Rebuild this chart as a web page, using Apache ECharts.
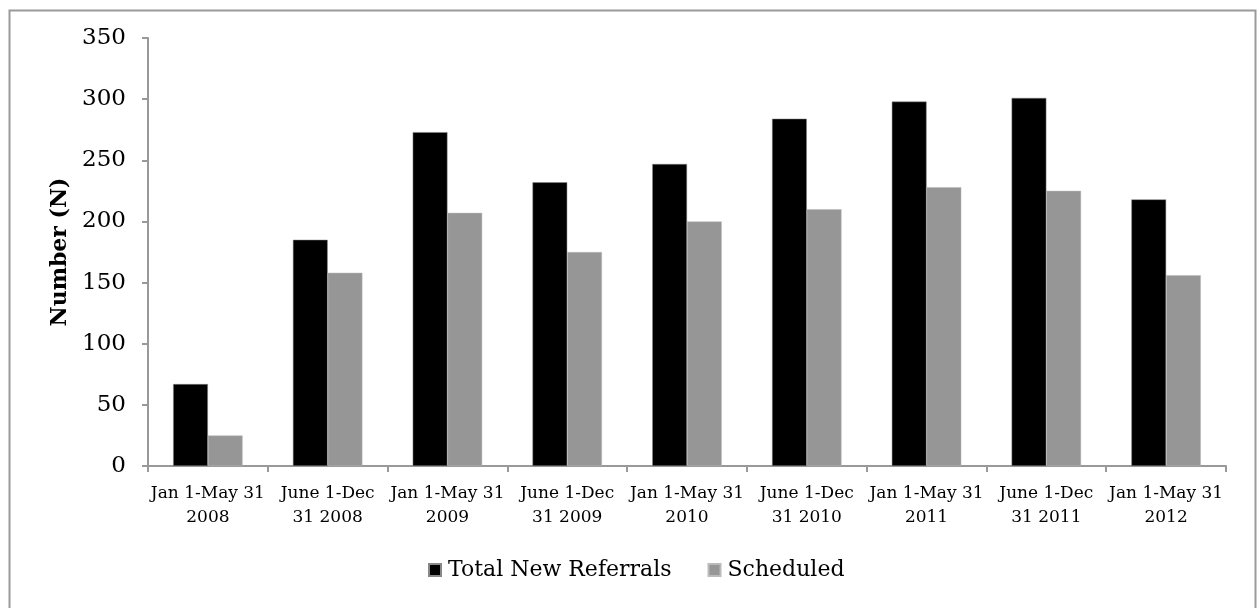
<!DOCTYPE html>
<html>
<head>
<meta charset="utf-8">
<script src="https://cdn.jsdelivr.net/npm/echarts@6/dist/echarts.min.js"></script>
<style>html,body{margin:0;padding:0;background:#fff;}#c{width:1258px;height:608px;}</style>
</head>
<body>
<div id="c"></div>
<script>
const categories = [
  "Jan 1-May 31\n2008", "June 1-Dec\n31 2008", "Jan 1-May 31\n2009", "June 1-Dec\n31 2009",
  "Jan 1-May 31\n2010", "June 1-Dec\n31 2010", "Jan 1-May 31\n2011", "June 1-Dec\n31 2011",
  "Jan 1-May 31\n2012"
];
const totalNewReferrals = [67, 185, 273, 232, 247, 284, 298, 301, 218];
const scheduled = [25, 158, 207, 175, 200, 210, 228, 225, 156];
const seriesNames = ["Total New Referrals", "Scheduled"];
const yTicks = { min: 0, max: 350, interval: 50 };

const FONT = "DejaVu Serif";
const chart = echarts.init(document.getElementById('c'), null, { renderer: 'canvas' });
chart.setOption({
  animation: false,
  backgroundColor: '#fff',
  textStyle: { fontFamily: FONT, color: '#000' },
  graphic: [{
    type: 'rect', left: 7, top: 8,
    shape: { width: 1246, height: 620 },
    style: { fill: 'none', stroke: '#9a9a9a', lineWidth: 2 },
    silent: true
  }],
  grid: { left: 148, right: 32, top: 38, bottom: 142, containLabel: false },
  legend: {
    bottom: 22, left: 423,
    itemWidth: 12, itemHeight: 12, itemGap: 36,
    icon: 'rect',
    textStyle: { fontFamily: FONT, fontSize: 22, color: '#000', padding: [0, 0, 0, 2] },
    data: seriesNames
  },
  xAxis: {
    type: 'category', data: categories,
    axisLine: { lineStyle: { color: '#999', width: 2 } },
    axisTick: { show: true, length: 6, lineStyle: { color: '#999', width: 2 } },
    axisLabel: { fontFamily: FONT, fontSize: 17, color: '#000', margin: 16, lineHeight: 24, interval: 0 }
  },
  yAxis: {
    type: 'value', min: yTicks.min, max: yTicks.max, interval: yTicks.interval,
    name: 'Number (N)', nameLocation: 'middle', nameGap: 76, nameRotate: 90,
    nameTextStyle: { fontFamily: FONT, fontSize: 22, fontWeight: 'bold', color: '#000' },
    axisLine: { show: true, lineStyle: { color: '#999', width: 2 } },
    axisTick: { show: true, length: 6, lineStyle: { color: '#999', width: 2 } },
    splitLine: { show: false },
    axisLabel: { fontFamily: FONT, fontSize: 23, color: '#000', margin: 22 }
  },
  series: [
    { name: seriesNames[0], type: 'bar', data: totalNewReferrals, barGap: '0%', barCategoryGap: '42%',
      itemStyle: { color: '#000', borderColor: '#888', borderWidth: 0.5 } },
    { name: seriesNames[1], type: 'bar', data: scheduled, barGap: '0%', barCategoryGap: '42%',
      itemStyle: { color: '#969696', borderColor: '#bbb', borderWidth: 0.5 } }
  ]
});
</script>
</body>
</html>
